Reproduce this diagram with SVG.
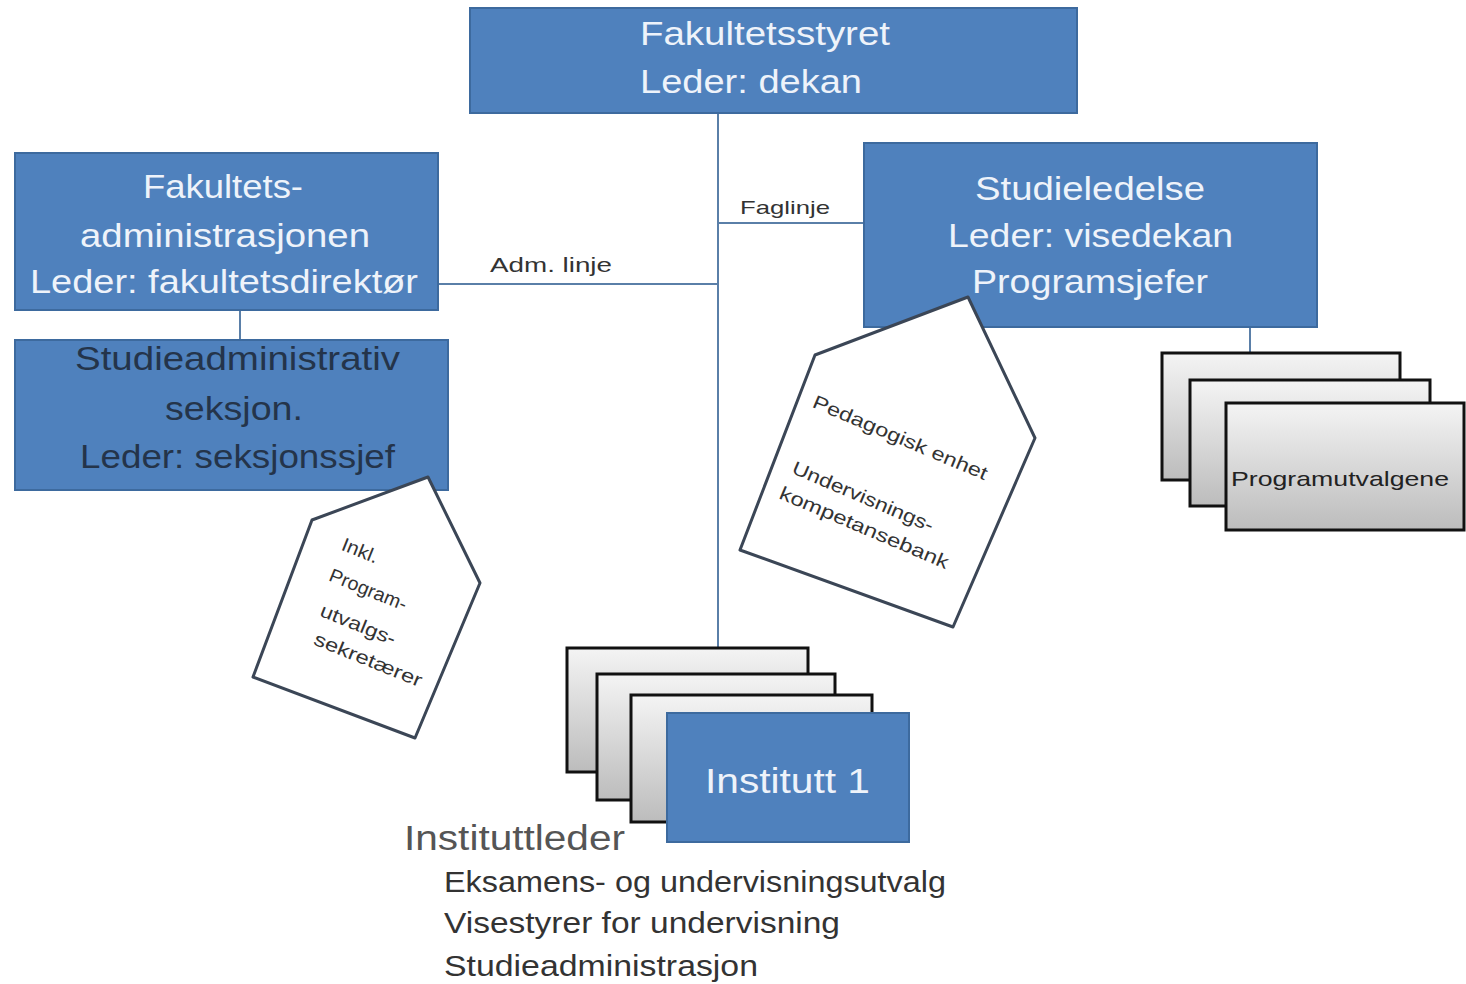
<svg xmlns="http://www.w3.org/2000/svg" width="1466" height="984" viewBox="0 0 1466 984">
<defs>
<linearGradient id="gray" x1="0" y1="0" x2="0" y2="1">
<stop offset="0" stop-color="#f4f4f4"/>
<stop offset="1" stop-color="#bcbcbc"/>
</linearGradient>
<style>
.blue{fill:#4f81bd;stroke:#3d6a9e;stroke-width:2}
.gray{fill:url(#gray);stroke:#111;stroke-width:3}
.pent{fill:#fff;stroke:#3b4656;stroke-width:3;stroke-linejoin:round}
text{font-family:"Liberation Sans",Arial,sans-serif}
.wt{fill:#eef3fa}
.big{font-size:34px}
.dn{fill:#24344a}
.dk{fill:#333}
.sm{fill:#333;font-size:19px}
.ln{stroke:#5a7fa8;stroke-width:2;fill:none}
</style>
</defs>
<rect width="1466" height="984" fill="#fff"/>
<g id="connectors">
<line class="ln" x1="718" y1="113" x2="718" y2="648"/>
<line class="ln" x1="718" y1="223" x2="864" y2="223"/>
<line class="ln" x1="438" y1="284" x2="718" y2="284"/>
<line class="ln" x1="240" y1="310" x2="240" y2="340"/>
<line class="ln" x1="1250" y1="327" x2="1250" y2="353"/>
<text class="dk" x="740" y="214" font-size="19" textLength="90" lengthAdjust="spacingAndGlyphs">Faglinje</text>
<text class="dk" x="490" y="272" font-size="20" textLength="122" lengthAdjust="spacingAndGlyphs">Adm. linje</text>
</g>
<g id="fakultetsstyret">
<rect class="blue" x="470" y="8" width="607" height="105"/>
<text class="wt big" x="640" y="45" textLength="250" lengthAdjust="spacingAndGlyphs">Fakultetsstyret</text>
<text class="wt big" x="640" y="93" textLength="222" lengthAdjust="spacingAndGlyphs">Leder: dekan</text>
</g>
<g id="fakultetsadministrasjonen">
<rect class="blue" x="15" y="153" width="423" height="157"/>
<text class="wt big" x="143" y="198" textLength="160" lengthAdjust="spacingAndGlyphs">Fakultets-</text>
<text class="wt big" x="80" y="247" textLength="290" lengthAdjust="spacingAndGlyphs">administrasjonen</text>
<text class="wt big" x="30" y="293" textLength="388" lengthAdjust="spacingAndGlyphs">Leder: fakultetsdirektør</text>
</g>
<g id="studieadministrativ">
<rect class="blue" x="15" y="340" width="433" height="150"/>
<text class="dn big" x="75" y="370" textLength="325" lengthAdjust="spacingAndGlyphs">Studieadministrativ</text>
<text class="dn big" x="165" y="420" textLength="138" lengthAdjust="spacingAndGlyphs">seksjon.</text>
<text class="dn big" x="80" y="468" textLength="315" lengthAdjust="spacingAndGlyphs">Leder: seksjonssjef</text>
</g>
<g id="studieledelse">
<rect class="blue" x="864" y="143" width="453" height="184"/>
<text class="wt big" x="975" y="200" textLength="230" lengthAdjust="spacingAndGlyphs">Studieledelse</text>
<text class="wt big" x="948" y="247" textLength="285" lengthAdjust="spacingAndGlyphs">Leder: visedekan</text>
<text class="wt big" x="972" y="293" textLength="236" lengthAdjust="spacingAndGlyphs">Programsjefer</text>
</g>
<g id="inkl-pentagon">
<polygon class="pent" points="428,477 480,583 415,738 253,677 312,520"/>
<g text-anchor="middle">
<text class="sm" transform="rotate(22 360 551)" x="360" y="557" textLength="38" lengthAdjust="spacingAndGlyphs">Inkl.</text>
<text class="sm" transform="rotate(22 368 590)" x="368" y="596" textLength="82" lengthAdjust="spacingAndGlyphs">Program-</text>
<text class="sm" transform="rotate(22 358 625)" x="358" y="631" textLength="80" lengthAdjust="spacingAndGlyphs">utvalgs-</text>
<text class="sm" transform="rotate(22 368 660)" x="368" y="666" textLength="115" lengthAdjust="spacingAndGlyphs">sekretærer</text>
</g>
</g>
<g id="pedagogisk-pentagon">
<polygon class="pent" points="968,297 1035,438 953,627 740,550 815,355"/>
<g text-anchor="middle">
<text class="sm" transform="rotate(23 900 438)" x="900" y="444" textLength="188" lengthAdjust="spacingAndGlyphs">Pedagogisk enhet</text>
<text class="sm" transform="rotate(23 863 497)" x="863" y="503" textLength="152" lengthAdjust="spacingAndGlyphs">Undervisnings-</text>
<text class="sm" transform="rotate(23 864 528)" x="864" y="534" textLength="182" lengthAdjust="spacingAndGlyphs">kompetansebank</text>
</g>
</g>
<g id="programutvalgene">
<rect class="gray" x="1162" y="353" width="238" height="127"/>
<rect class="gray" x="1190" y="380" width="240" height="126"/>
<rect class="gray" x="1226" y="403" width="238" height="127"/>
<text x="1231" y="486" font-size="21" fill="#222" textLength="218" lengthAdjust="spacingAndGlyphs">Programutvalgene</text>
</g>
<g id="institutt">
<rect class="gray" x="567" y="648" width="241" height="124"/>
<rect class="gray" x="597" y="674" width="238" height="126"/>
<rect class="gray" x="631" y="695" width="241" height="127"/>
<rect class="blue" x="667" y="713" width="242" height="129"/>
<text class="wt" x="705" y="793" font-size="35" textLength="165" lengthAdjust="spacingAndGlyphs">Institutt 1</text>
</g>
<g id="instituttleder">
<text x="404" y="850" font-size="35" fill="#555" textLength="221" lengthAdjust="spacingAndGlyphs">Instituttleder</text>
<text class="dk" x="444" y="892" font-size="29" textLength="502" lengthAdjust="spacingAndGlyphs">Eksamens- og undervisningsutvalg</text>
<text class="dk" x="444" y="933" font-size="29" textLength="396" lengthAdjust="spacingAndGlyphs">Visestyrer for undervisning</text>
<text class="dk" x="444" y="976" font-size="29" textLength="314" lengthAdjust="spacingAndGlyphs">Studieadministrasjon</text>
</g>
</svg>
